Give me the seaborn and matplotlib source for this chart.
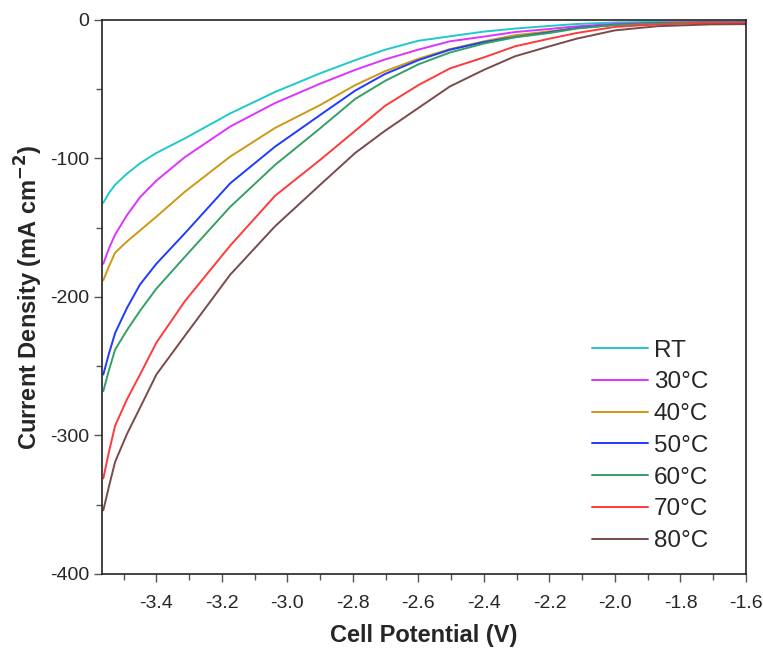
import seaborn as sns
import pandas as pd
import matplotlib.pyplot as plt
from matplotlib.ticker import MultipleLocator

# cell potential (V) where the curves were read
potential = [-3.562, -3.545, -3.526, -3.490, -3.450, -3.400, -3.313, -3.175, -3.038, -2.900,
             -2.793, -2.702, -2.600, -2.504, -2.400, -2.305, -2.200, -2.117, -2.000, -1.871,
             -1.710, -1.600]

# current density (mA cm-2) for each temperature
rt = [-132, -125, -119, -111, -103.5, -96, -85.5, -67.5, -52, -38.5,
      -29, -21.5, -15, -11.8, -8.4, -6.2, -4.3, -2.9, -1.8, -1.3,
      -1.2, -1.3]
t30 = [-176, -165, -155, -141, -128, -116, -99, -77, -60, -46,
       -36, -28.5, -21.4, -15.4, -12, -8.7, -6.5, -4.6, -2.8, -2,
       -1.6, -1.6]
t40 = [-188, -178, -168, -160, -152, -142, -124, -98.7, -78, -61.4,
       -47, -37, -28, -21, -15.4, -11, -8.2, -5.8, -3.5, -2.2,
       -1.6, -1.6]
t50 = [-256, -241, -226, -208, -191, -176, -154, -118, -91.5, -68.6,
       -51, -39, -29, -21.5, -16, -12.3, -8.9, -5.8, -3.5, -2.3,
       -1.8, -1.8]
t60 = [-268, -253, -238, -224, -210, -194, -171, -135, -104.7, -78.2,
       -57, -44, -32, -23.5, -17, -12.5, -9.4, -6.2, -3.6, -2.4,
       -1.9, -1.9]
t70 = [-331, -312, -293, -274, -256, -233, -203, -163, -127, -101,
       -80, -62, -47, -35, -27, -19, -13.5, -9.4, -5, -3.2,
       -2, -2]
t80 = [-354, -337, -319, -299, -280, -256, -228, -184, -149, -119,
       -96, -80, -63.5, -48, -36, -26.2, -19, -13.5, -7.5, -4.5,
       -3.2, -3]

labels = ['RT', '30°C', '40°C', '50°C', '60°C', '70°C', '80°C']
colors = ['#1FC8CC', '#DD33FF', '#CC9911', '#1F3BFF', '#33A066', '#FF3A3A', '#7A4A4A']

series = [rt, t30, t40, t50, t60, t70, t80]
frames = []
for lab, vals in zip(labels, series):
    frames.append(pd.DataFrame({'potential': potential, 'current': vals, 'temp': lab}))
df = pd.concat(frames, ignore_index=True)

sns.set_style('ticks')
plt.rcParams['font.family'] = ['Liberation Sans', 'DejaVu Sans']
plt.rcParams['axes.unicode_minus'] = False

fig = plt.figure(figsize=(7.63, 6.53), dpi=100)
ax = fig.add_axes([0.1337, 0.121, 0.844, 0.8484])

sns.lineplot(data=df, x='potential', y='current', hue='temp', hue_order=labels,
             palette=dict(zip(labels, colors)), ax=ax, linewidth=1.4, sort=False)

ax.set_xlim(-3.566, -1.6)
ax.set_ylim(-400, 0)
ax.xaxis.set_minor_locator(MultipleLocator(0.1))
ax.yaxis.set_major_locator(MultipleLocator(100))
ax.yaxis.set_minor_locator(MultipleLocator(50))
ax.set_xticks([-3.4, -3.2, -3.0, -2.8, -2.6, -2.4, -2.2, -2.0, -1.8, -1.6])
ax.tick_params(which='major', length=6, width=1, color='#555555', labelsize=14)
ax.tick_params(which='minor', length=4, width=1, color='#555555')
ax.tick_params(axis='x', which='major', pad=9)
ax.tick_params(axis='y', which='major', pad=3)
for s in ax.spines.values():
    s.set_linewidth(1.2)
    s.set_color('#222222')

ax.set_xlabel('Cell Potential (V)', fontsize=17, fontweight='bold', labelpad=9)
ax.set_ylabel('Current Density (mA cm$^{\\mathbf{-2}}$)', fontsize=17, fontweight='bold', labelpad=4)

ax.legend(frameon=False, fontsize=17.5, handlelength=2.3, labelspacing=0.4,
          handletextpad=0.25, loc='lower right', bbox_to_anchor=(0.975, 0.0))

fig.savefig('out.png', dpi=100)
